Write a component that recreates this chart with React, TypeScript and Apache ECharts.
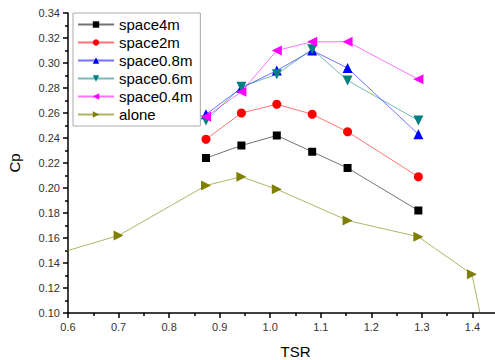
import React, { useEffect, useRef } from "react";
import * as echarts from "echarts";

const tsr = [0.873, 0.943, 1.013, 1.083, 1.153, 1.293];
const space4m = [0.224, 0.234, 0.242, 0.229, 0.216, 0.182];
const space2m = [0.239, 0.260, 0.267, 0.259, 0.245, 0.209];
const space08m = [0.259, 0.280, 0.294, 0.310, 0.296, 0.243];
const space06m = [0.254, 0.281, 0.291, 0.311, 0.286, 0.254];
const space04m = [0.257, 0.277, 0.310, 0.317, 0.317, 0.287];
const aloneTsr = [0.5, 0.7, 0.873, 0.943, 1.013, 1.153, 1.293, 1.399, 1.42];
const aloneCp = [0.138, 0.162, 0.202, 0.209, 0.199, 0.174, 0.161, 0.131, 0.09];

const seriesDefs = [
  { name: "space4m", values: space4m, color: "#000000", symbol: "rect", rotate: 0, size: 8 },
  { name: "space2m", values: space2m, color: "#ff0000", symbol: "circle", rotate: 0, size: 9 },
  { name: "space0.8m", values: space08m, color: "#0000ff", symbol: "triangle", rotate: 0, size: 10 },
  { name: "space0.6m", values: space06m, color: "#008080", symbol: "triangle", rotate: 180, size: 10 },
  { name: "space0.4m", values: space04m, color: "#ff00ff", symbol: "triangle", rotate: 90, size: 10 },
];

export default function App() {
  const ref = useRef<HTMLDivElement>(null);
  useEffect(() => {
    if (!ref.current) return;
    const chart = echarts.init(ref.current, undefined, { renderer: "svg" });
    const series: any[] = seriesDefs.map((s) => ({
      name: s.name,
      type: "line",
      data: tsr.map((x, i) => [x, s.values[i]]),
      symbol: s.symbol,
      symbolRotate: s.rotate,
      symbolSize: s.size,
      itemStyle: { color: s.color },
      lineStyle: { color: s.color, width: 1, opacity: 0.55 },
      clip: true,
    }));
    series.push({
      name: "alone",
      type: "line",
      data: aloneTsr.map((x, i) => [x, aloneCp[i]]),
      symbol: "triangle",
      symbolRotate: -90,
      symbolSize: 10,
      itemStyle: { color: "#808000" },
      lineStyle: { color: "#808000", width: 1, opacity: 0.6 },
      clip: true,
    });
    chart.setOption({
      animation: false,
      backgroundColor: "#ffffff",
      textStyle: { fontFamily: "Liberation Sans, Arial, sans-serif" },
      grid: { left: 68, top: 13, bottom: 47, right: -28, containLabel: false, outerBoundsMode: "none" },
      legend: {
        orient: "vertical",
        left: 73,
        top: 13,
        padding: [4, 8, 4, 4],
        itemGap: 3,
        itemWidth: 36,
        itemHeight: 8,
        borderColor: "#aaaaaa",
        borderWidth: 1,
        textStyle: { fontSize: 15, color: "#000", fontFamily: "Liberation Sans, Arial, sans-serif", lineHeight: 15 },
        data: ["space4m", "space2m", "space0.8m", "space0.6m", "space0.4m", "alone"],
      },
      xAxis: {
        type: "value",
        min: 0.6,
        max: 1.5,
        interval: 0.1,
        name: "TSR",
        nameLocation: "middle",
        nameGap: 31,
        nameTextStyle: { fontSize: 15, color: "#000" },
        axisLine: { show: true, onZero: false, lineStyle: { color: "#000", width: 1.5 } },
        axisTick: { show: true, inside: false, length: 5, lineStyle: { color: "#000", width: 1.5 } },
        minorTick: { show: true, splitNumber: 2, length: 3, lineStyle: { color: "#000", width: 1.5 } },
        splitLine: { show: false },
        axisLabel: {
          fontSize: 11,
          color: "#333",
          margin: 8,
          showMaxLabel: false,
          formatter: (v: number) => (v > 1.45 ? "" : v.toFixed(1)),
        },
      },
      yAxis: {
        type: "value",
        min: 0.1,
        max: 0.34,
        interval: 0.02,
        name: "Cp",
        nameLocation: "middle",
        nameGap: 46,
        nameTextStyle: { fontSize: 15, color: "#000" },
        axisLine: { show: true, onZero: false, lineStyle: { color: "#000", width: 1.5 } },
        axisTick: { show: true, inside: false, length: 5, lineStyle: { color: "#000", width: 1.5 } },
        minorTick: { show: true, splitNumber: 2, length: 3, lineStyle: { color: "#000", width: 1.5 } },
        splitLine: { show: false },
        axisLabel: { fontSize: 11, color: "#333", margin: 8, formatter: (v: number) => v.toFixed(2) },
      },
      series,
    });
    return () => chart.dispose();
  }, []);
  return <div ref={ref} style={{ width: 495, height: 360, position: "absolute", left: 0, top: 0 }} />;
}
